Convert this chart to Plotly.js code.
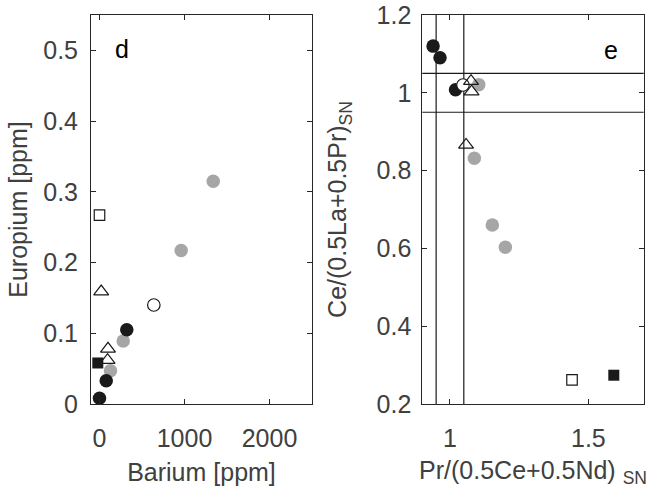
<!DOCTYPE html>
<html>
<head>
<meta charset="utf-8">
<script src="https://cdn.plot.ly/plotly-3.0.1.min.js"></script>
<style>html,body{margin:0;padding:0;background:#fff;}#chart{width:659px;height:495px;}</style>
</head>
<body>
<div id="chart"></div>
<script>
// ---- Panel d: Barium vs Europium ----
var baGray = [129, 279, 961, 1338];
var euGray = [0.047, 0.089, 0.217, 0.315];
var baBlack = [0, 79, 321];
var euBlack = [0.008, 0.033, 0.105];
var baOpenCircle = [639];
var euOpenCircle = [0.140];
var baTriangle = [20, 100, 95];
var euTriangle = [0.159, 0.078, 0.062];
var baOpenSquare = [0];
var euOpenSquare = [0.267];
var baFilledSquare = [-20];
var euFilledSquare = [0.058];

// ---- Panel e: Pr anomaly vs Ce anomaly ----
var prGray = [1.104, 1.088, 1.153, 1.200];
var ceGray = [1.021, 0.832, 0.660, 0.603];
var prBlack = [0.939, 0.964, 1.020];
var ceBlack = [1.120, 1.090, 1.008];
var prOpenCircle = [1.047];
var ceOpenCircle = [1.020];
var prTriangle = [1.076, 1.078, 1.058];
var ceTriangle = [1.030, 1.003, 0.866];
var prOpenSquare = [1.441];
var ceOpenSquare = [0.262];
var prFilledSquare = [1.592];
var ceFilledSquare = [0.274];

var refLines = [0.95, 1.05];

var xTicksD = [0, 1000, 2000];
var yTicksD = [0, 0.1, 0.2, 0.3, 0.4, 0.5];
var xTicksE = [1, 1.5];
var yTicksE = [0.2, 0.4, 0.6, 0.8, 1, 1.2];

var GRAY = '#a6a6a6', BLACK = '#1a1a1a', TXT = '#404040';
var FONT = 'Liberation Sans, Arial, Helvetica, sans-serif';
var FS = 25;

function grp(x, y, xa, ya, marker) {
  return {x: x, y: y, xaxis: xa, yaxis: ya, type: 'scatter', mode: 'markers',
          marker: marker, showlegend: false, hoverinfo: 'x+y', cliponaxis: false};
}
var mGray = {symbol: 'circle', size: 13.5, color: GRAY, line: {width: 0}};
var mBlack = {symbol: 'circle', size: 13.5, color: BLACK, line: {width: 0}};
var mOpenC = {symbol: 'circle', size: 12.5, color: '#ffffff', line: {width: 1.2, color: BLACK}};
var mTri = {symbol: 'triangle-up-open', size: 13, color: BLACK, line: {width: 1.2, color: BLACK}};
var mOpenSq = {symbol: 'square', size: 10.5, color: '#ffffff', line: {width: 1.2, color: BLACK}};
var mFillSq = {symbol: 'square', size: 11, color: BLACK, line: {width: 0}};

var data = [
  grp(baOpenSquare, euOpenSquare, 'x', 'y', mOpenSq),
  grp(baFilledSquare, euFilledSquare, 'x', 'y', mFillSq),
  grp(baTriangle, euTriangle, 'x', 'y', mTri),
  grp(baGray, euGray, 'x', 'y', mGray),
  grp(baBlack, euBlack, 'x', 'y', mBlack),
  grp(baOpenCircle, euOpenCircle, 'x', 'y', mOpenC),

  grp(prGray, ceGray, 'x2', 'y2', mGray),
  grp(prBlack, ceBlack, 'x2', 'y2', mBlack),
  grp(prOpenCircle, ceOpenCircle, 'x2', 'y2', mOpenC),
  grp(prTriangle, ceTriangle, 'x2', 'y2', mTri),
  grp(prOpenSquare, ceOpenSquare, 'x2', 'y2', mOpenSq),
  grp(prFilledSquare, ceFilledSquare, 'x2', 'y2', mFillSq)
];

function ax(extra) {
  var base = {
    showline: true, mirror: 'ticks', linecolor: '#262626', linewidth: 1,
    ticks: 'inside', ticklen: 5, tickwidth: 1, tickcolor: '#262626',
    showgrid: false, zeroline: false,
    tickfont: {family: FONT, size: FS, color: TXT},
    automargin: false
  };
  for (var k in extra) base[k] = extra[k];
  return base;
}
function ttl(t, s) { return {text: t, font: {family: FONT, size: FS, color: TXT}, standoff: s}; }

var shapes = [];
refLines.forEach(function (v) {
  shapes.push({type: 'line', xref: 'x2', yref: 'y2 domain', x0: v, x1: v, y0: 0, y1: 1,
               line: {color: BLACK, width: 1.2}, layer: 'below'});
  shapes.push({type: 'line', xref: 'x2 domain', yref: 'y2', x0: 0, x1: 1, y0: v, y1: v,
               line: {color: BLACK, width: 1.2}, layer: 'below'});
});

var layout = {
  width: 659, height: 495,
  margin: {l: 0, r: 0, t: 0, b: 0},
  paper_bgcolor: '#ffffff', plot_bgcolor: '#ffffff',
  font: {family: FONT, size: FS, color: TXT},
  showlegend: false,
  xaxis: ax({domain: [91 / 659, 312 / 659], anchor: 'y', range: [-100, 2500], tickvals: xTicksD,
             ticklabelstandoff: 12, title: ttl('Barium [ppm]', 12)}),
  yaxis: ax({domain: [91 / 495, 480 / 495], anchor: 'x', range: [0, 0.55], tickvals: yTicksD,
             ticklabelstandoff: 7, title: ttl('Europium [ppm]', 8)}),
  xaxis2: ax({domain: [422.3 / 659, 643.7 / 659], anchor: 'y2', range: [0.9, 1.7], tickvals: xTicksE,
              ticklabelstandoff: 12, title: ttl('Pr/(0.5Ce+0.5Nd) <sub>SN</sub>', 10)}),
  yaxis2: ax({domain: [91 / 495, 480 / 495], anchor: 'x2', range: [0.2, 1.2], tickvals: yTicksE,
              ticklabelstandoff: 5, title: ttl('Ce/(0.5La+0.5Pr)<sub>SN</sub>', 22)}),
  shapes: shapes,
  annotations: [
    {xref: 'x', yref: 'y', x: 270, y: 0.502, text: 'd', showarrow: false,
     font: {family: FONT, size: FS, color: '#000000'}},
    {xref: 'x2', yref: 'y2', x: 1.582, y: 1.11, text: 'e', showarrow: false,
     font: {family: FONT, size: FS, color: '#000000'}}
  ]
};

Plotly.newPlot('chart', data, layout, {displayModeBar: false, staticPlot: true});
</script>
</body>
</html>
